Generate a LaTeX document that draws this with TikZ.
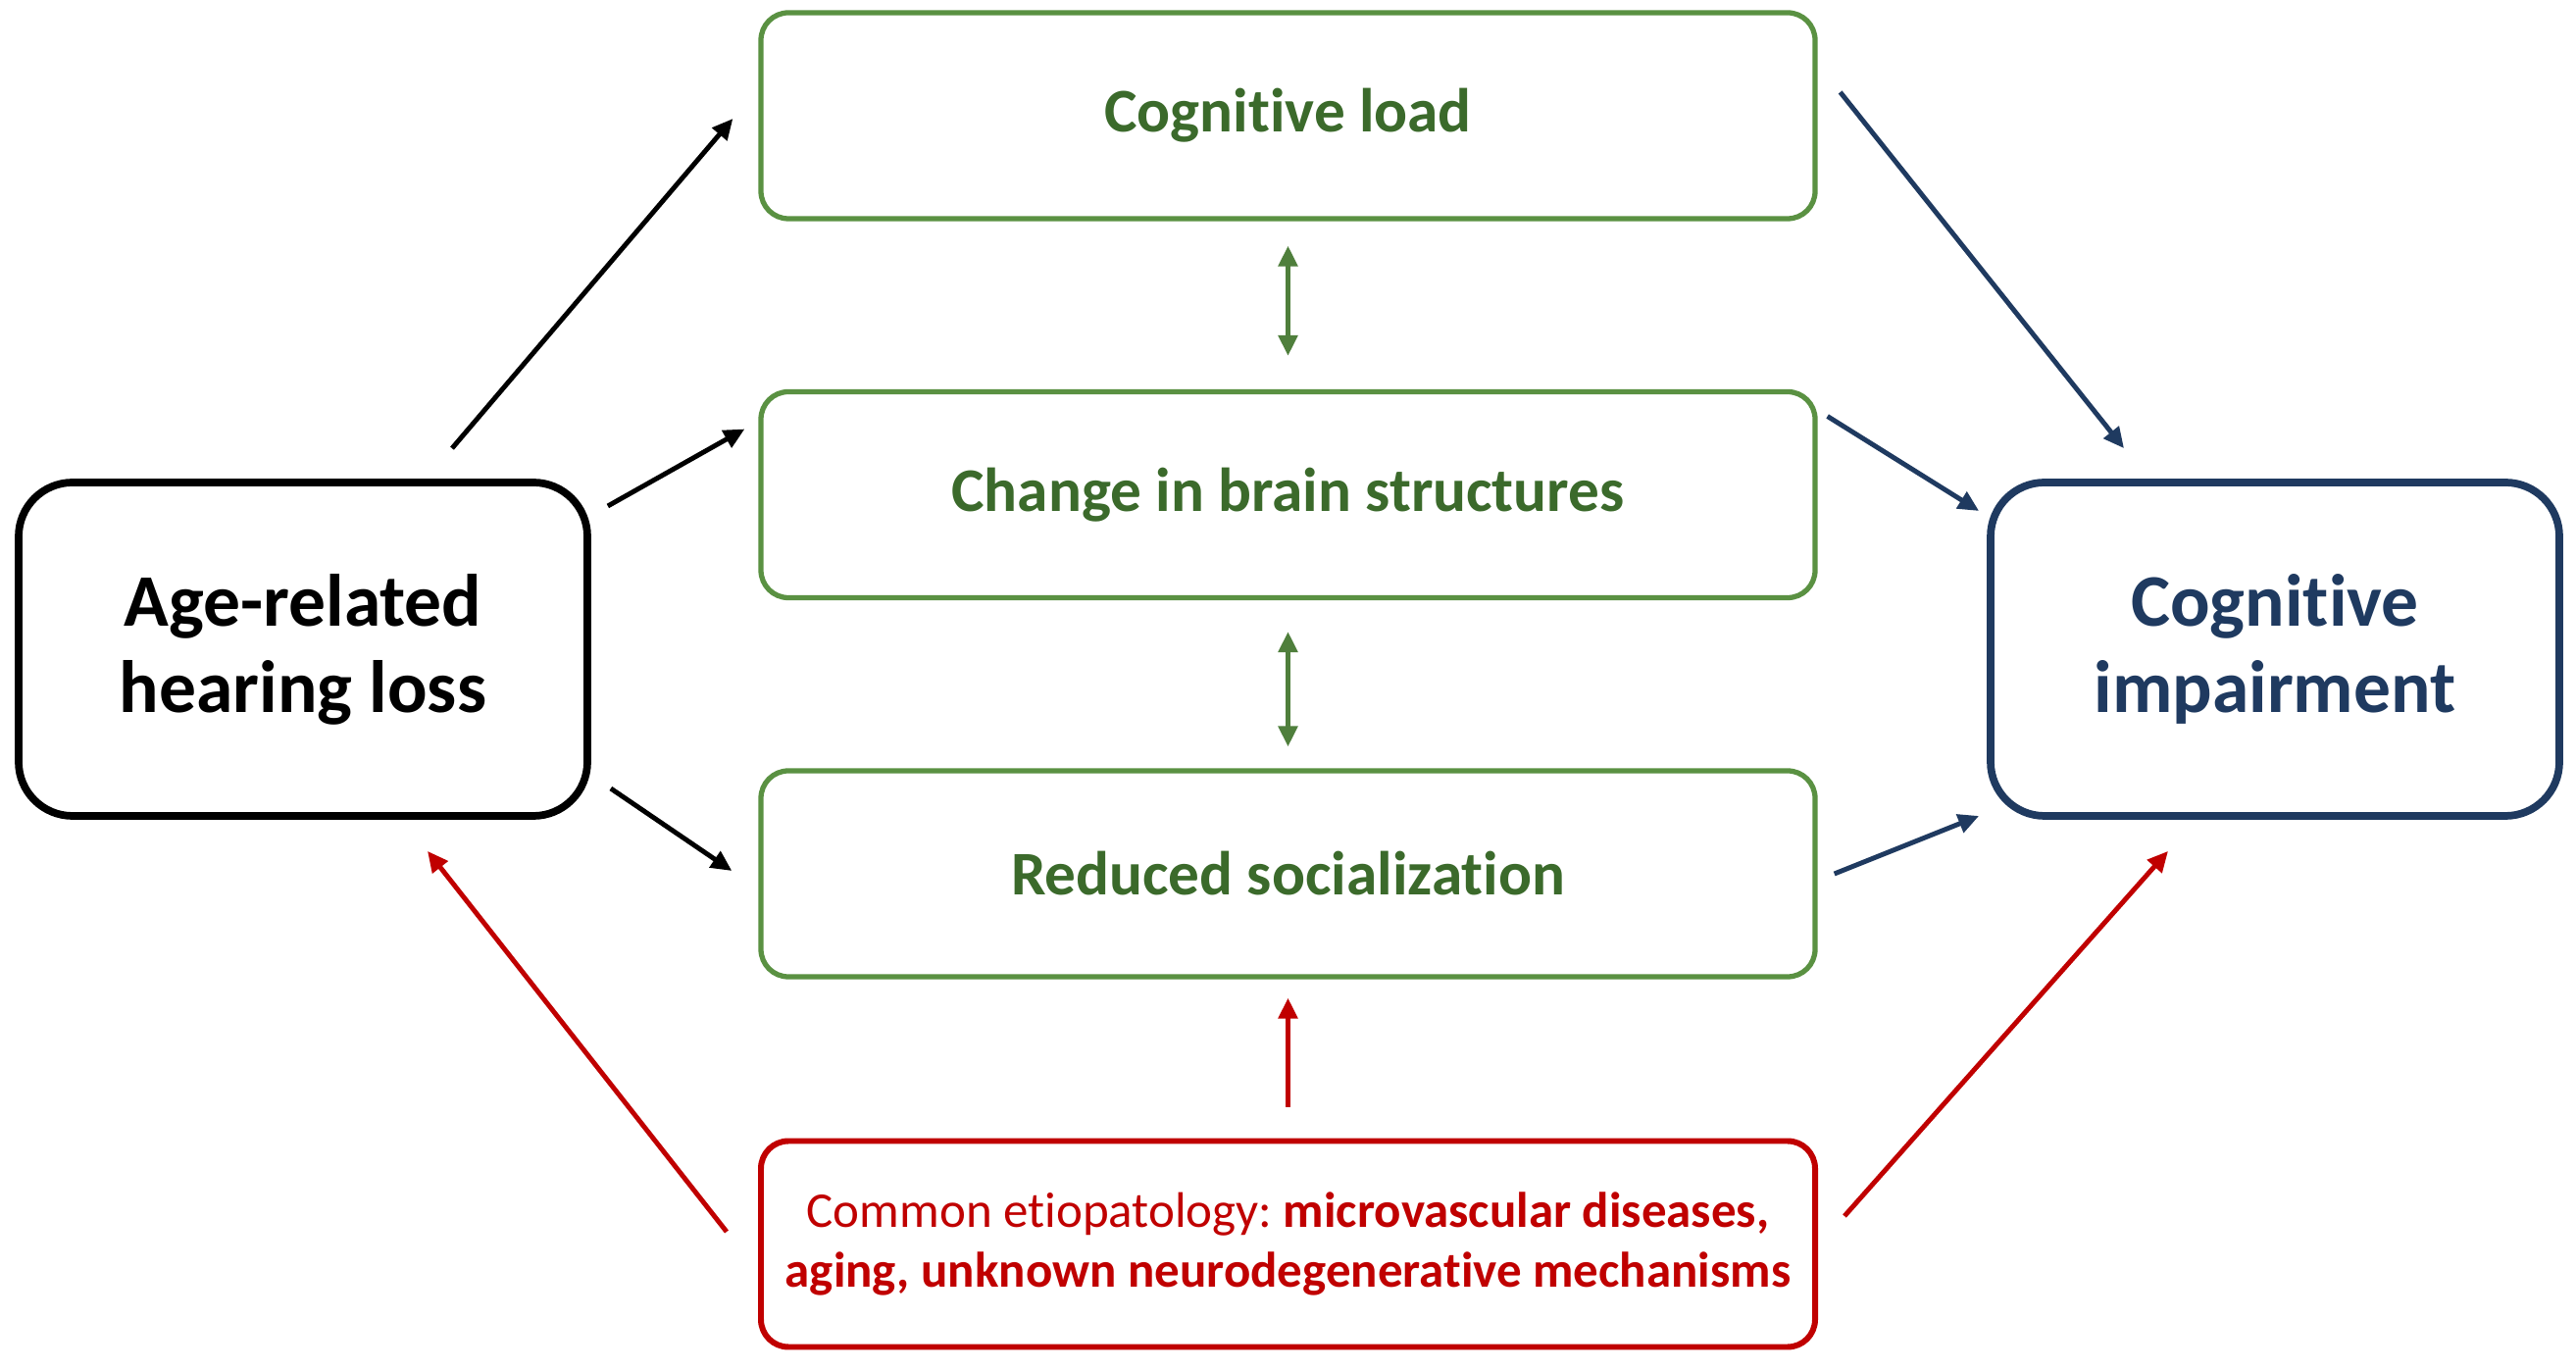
\documentclass[tikz,border=0pt]{standalone}
\usepackage{fontspec}
\setmainfont{Carlito}[Ligatures=NoCommon]
\usepackage{xcolor}
\usetikzlibrary{calc,arrows.meta}
\definecolor{boxgreen}{HTML}{5A9142}
\definecolor{arrowgreen}{HTML}{4F7F3C}
\definecolor{textgreen}{HTML}{3B6A2B}
\definecolor{navy}{HTML}{1F3A60}
\definecolor{darkred}{HTML}{C00000}
\frenchspacing

\begin{document}
\begin{tikzpicture}[
		line join=round,
		midbox/.style={draw=boxgreen, line width=1.5pt, rounded corners=0.28cm, minimum width=10.75cm, minimum height=2.1cm, inner sep=0pt, text=textgreen, font=\bfseries\fontsize{18}{22}\selectfont},
		endbox/.style={draw, line width=2.2pt, rounded corners=0.55cm, minimum width=5.8cm, minimum height=3.4cm, inner sep=0pt, align=center, font=\bfseries\fontsize{21.5}{25}\selectfont},
		link/.style={line width=1.4pt, -{Triangle[length=6pt,width=5.5pt]}},
		twoway/.style={line width=1.4pt, {Triangle[length=6pt,width=5.5pt]}-{Triangle[length=6pt,width=5.5pt]}, arrowgreen}
		]
		\fill[white] (0,0) rectangle (26.27,13.97);
		
		\node[endbox] (ahl) at (3.09,7.35) {Age-related\\hearing loss};
		\node[endbox, draw=navy, text=navy] (ci) at (23.20,7.35) {Cognitive\\impairment};
		
		\node[midbox] (load) at (13.135,12.79) {Cognitive load};
		\node[midbox] (brain) at (13.135,8.925) {Change in brain structures};
		\node[midbox] (social) at (13.135,5.06) {Reduced socialization};
		\node[midbox, draw=darkred, line width=1.7pt, text=darkred, align=center, font=\fontsize{14.5}{17.5}\selectfont] (common) at (13.135,1.285)
			{Common etiopatology: \textbf{microvascular diseases,}\\\textbf{aging, unknown neurodegenerative mechanisms}};
		
		% hearing loss to the mediators
		\draw[link] ($(ahl.north)+(1.52,0.31)$) -- ($(load.west)+(-0.26,-0.03)$);
		\draw[link] ($(ahl.east)+(0.17,1.46)$) -- ($(brain.west)+(-0.14,0.67)$);
		\draw[link] ($(ahl.east)+(0.20,-1.42)$) -- ($(social.west)+(-0.27,0.03)$);
		
		% mediators to impairment
		\draw[link, navy] ($(load.east)+(0.23,0.24)$) -- ($(ci.north)+(-1.54,0.31)$);
		\draw[link, navy] ($(brain.east)+(0.10,0.80)$) -- ($(ci.west)+(-0.08,1.41)$);
		\draw[link, navy] ($(social.east)+(0.17,0)$) -- ($(ci.west)+(-0.08,-1.70)$);
		
		\draw[twoway] ($(load.south)+(0,-0.25)$) -- ($(brain.north)+(0,0.34)$);
		\draw[twoway] ($(brain.south)+(0,-0.32)$) -- ($(social.north)+(0,0.22)$);
		
		% common causes
		\draw[link, darkred] ($(common.west)+(-0.32,0.125)$) -- ($(ahl.south)+(1.27,-0.32)$);
		\draw[link, darkred] ($(common.north)+(0,0.32)$) -- ($(social.south)+(0,-0.19)$);
		\draw[link, darkred] ($(common.east)+(0.27,0.285)$) -- ($(ci.south)+(-1.09,-0.32)$);
		
	\end{tikzpicture}
\end{document}
